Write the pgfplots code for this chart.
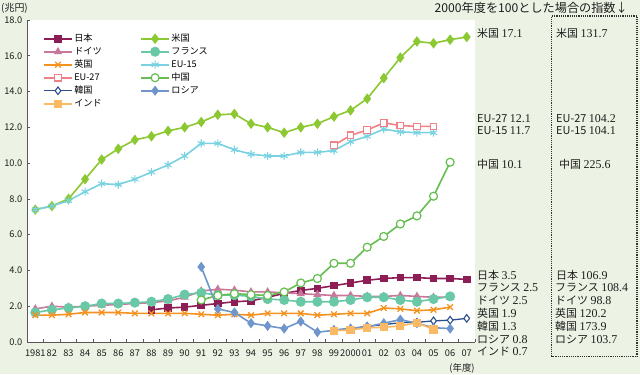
\documentclass[border=0pt]{standalone}
\usepackage{pgfplots}
\pgfplotsset{compat=1.18}
\usepackage{fontspec}
\setmainfont{Noto Sans CJK JP}
\newfontfamily\numf{Liberation Serif}
\definecolor{bg}{RGB}{236,243,228}
\definecolor{cJP}{RGB}{140,30,85}
\definecolor{cUS}{RGB}{140,200,50}
\definecolor{cDE}{RGB}{200,120,155}
\definecolor{cFR}{RGB}{105,200,165}
\definecolor{cUK}{RGB}{245,145,30}
\definecolor{cE15}{RGB}{120,210,225}
\definecolor{cE27}{RGB}{240,130,135}
\definecolor{cCN}{RGB}{100,190,80}
\definecolor{cKR}{RGB}{45,80,140}
\definecolor{cRU}{RGB}{110,150,205}
\definecolor{cIN}{RGB}{250,185,100}
\definecolor{txt}{RGB}{30,30,30}
\newcommand{\jf}{\fontsize{11}{12}\selectfont}
\newcommand{\nf}{\numf\fontsize{12}{13}\selectfont}
\begin{document}
\begin{tikzpicture}[x=1bp,y=1bp]
\fill[bg] (0,0) rectangle (640,374);
\begin{axis}[
  at={(27bp,32bp)}, anchor=south west, scale only axis,
  width=448bp, height=322bp,
  xmin=1980.5, xmax=2007.5, ymin=0, ymax=18,
  axis background/.style={fill=white},
  axis lines=left, axis line style={-, draw=black!65, line width=0.8bp},
  tick align=inside,
  xtick={1981,...,2007},
  xticklabels={1981,82,83,84,85,86,87,88,89,90,91,92,93,94,95,96,97,98,99,2000,01,02,03,04,05,06,07},
  major x tick style={draw=none},
  minor xtick={1981.5,1982.5,...,2007.5},
  minor tick length=3bp,
  minor x tick style={draw=black!65, line width=0.6bp},
  ytick={0,2,...,18},
  major tick length=3bp,
  y tick style={draw=black!65, line width=0.6bp},
  /pgf/number format/assume math mode=true,
  /pgf/number format/fixed,
  /pgf/number format/fixed zerofill,
  /pgf/number format/precision=1,
  tick label style={font=\fontsize{9.3}{10}\selectfont, text=txt},
  xticklabel style={yshift=-3.8bp, inner xsep=0pt},
  yticklabel style={xshift=-1.2bp},
  legend columns=2,
  legend cell align=left,
  legend style={at={(axis description cs:0.0357,0.958)}, anchor=north west,
    draw=none, fill=none, inner sep=0pt, row sep=3bp,
    font=\fontsize{9.2}{10}\selectfont,
    nodes={inner xsep=1.5bp, inner ysep=0bp, text height=7.5bp, text depth=2.5bp},
    /tikz/every even column/.append style={column sep=37bp}},
  legend image code/.code={\draw[mark repeat=2,mark phase=2] plot coordinates {(0bp,0bp) (14bp,0bp) (28bp,0bp)};},
  every axis plot/.append style={line width=1.6bp},
]
% 日本
\addplot[cJP, mark=square*, mark size=3bp, mark options={solid}] coordinates {
(1988,1.8)(1989,1.9)(1990,1.95)(1991,2.05)(1992,2.15)(1993,2.25)(1994,2.3)(1995,2.5)(1996,2.72)(1997,2.88)(1998,3.0)(1999,3.15)(2000,3.3)(2001,3.45)(2002,3.55)(2003,3.6)(2004,3.6)(2005,3.55)(2006,3.55)(2007,3.5)};
\addlegendentry{日本}
% 米国
\addplot[cUS, mark=diamond*, mark size=4bp, mark options={solid}] coordinates {
(1981,7.4)(1982,7.6)(1983,8.0)(1984,9.1)(1985,10.2)(1986,10.8)(1987,11.3)(1988,11.5)(1989,11.8)(1990,12.0)(1991,12.3)(1992,12.7)(1993,12.75)(1994,12.2)(1995,12.0)(1996,11.7)(1997,12.0)(1998,12.2)(1999,12.6)(2000,12.95)(2001,13.6)(2002,14.75)(2003,15.9)(2004,16.8)(2005,16.7)(2006,16.9)(2007,17.05)};
\addlegendentry{米国}
% ドイツ
\addplot[cDE, mark=triangle*, mark size=3.2bp, mark options={solid}] coordinates {
(1981,1.85)(1982,2.0)(1983,1.95)(1984,2.0)(1985,2.05)(1986,2.1)(1987,2.15)(1988,2.2)(1989,2.3)(1990,2.5)(1991,2.85)(1992,2.95)(1993,2.9)(1994,2.8)(1995,2.8)(1996,2.75)(1997,2.7)(1998,2.65)(1999,2.6)(2000,2.6)(2001,2.55)(2002,2.55)(2003,2.6)(2004,2.55)(2005,2.5)(2006,2.5)};
\addlegendentry{ドイツ}
% フランス
\addplot[cFR, mark=*, mark size=4.2bp, mark options={solid}] coordinates {
(1981,1.65)(1982,1.8)(1983,1.9)(1984,2.0)(1985,2.15)(1986,2.15)(1987,2.2)(1988,2.25)(1989,2.4)(1990,2.65)(1991,2.75)(1992,2.62)(1993,2.62)(1994,2.55)(1995,2.4)(1996,2.35)(1997,2.25)(1998,2.25)(1999,2.25)(2000,2.35)(2001,2.5)(2002,2.5)(2003,2.35)(2004,2.25)(2005,2.4)(2006,2.55)};
\addlegendentry{フランス}
% 英国
\addplot[cUK, mark=x, mark size=4bp, mark options={solid, line width=1.3bp}] coordinates {
(1981,1.5)(1982,1.5)(1983,1.55)(1984,1.65)(1985,1.65)(1986,1.65)(1987,1.6)(1988,1.6)(1989,1.6)(1990,1.6)(1991,1.55)(1992,1.5)(1993,1.55)(1994,1.5)(1995,1.6)(1996,1.6)(1997,1.6)(1998,1.5)(1999,1.55)(2000,1.6)(2001,1.6)(2002,1.9)(2003,1.85)(2004,1.75)(2005,1.8)(2006,1.95)};
\addlegendentry{英国}
% EU-15
\addplot[cE15, mark=asterisk, mark size=4bp, mark options={solid, line width=1.1bp}] coordinates {
(1981,7.4)(1982,7.6)(1983,7.9)(1984,8.4)(1985,8.85)(1986,8.8)(1987,9.1)(1988,9.5)(1989,9.9)(1990,10.4)(1991,11.1)(1992,11.1)(1993,10.75)(1994,10.5)(1995,10.4)(1996,10.4)(1997,10.6)(1998,10.6)(1999,10.7)(2000,11.2)(2001,11.5)(2002,11.9)(2003,11.75)(2004,11.7)(2005,11.7)};
\addlegendentry{EU-15}
% EU-27
\addplot[cE27, mark=square*, mark size=3.3bp, mark options={solid, fill=white, line width=1.2bp}] coordinates {
(1999,11.0)(2000,11.55)(2001,11.85)(2002,12.25)(2003,12.1)(2004,12.05)(2005,12.05)};
\addlegendentry{EU-27}
% 中国
\addplot[cCN, mark=*, mark size=4bp, mark options={solid, fill=white, line width=1.2bp}] coordinates {
(1991,2.35)(1992,2.6)(1993,2.7)(1994,2.65)(1995,2.6)(1996,2.8)(1997,3.3)(1998,3.55)(1999,4.4)(2000,4.4)(2001,5.3)(2002,5.9)(2003,6.6)(2004,7.05)(2005,8.15)(2006,10.05)};
\addlegendentry{中国}
% 韓国
\addplot[cKR, line width=1.3bp, mark=diamond*, mark size=3.8bp, mark options={solid, fill=white, line width=1.1bp}] coordinates {
(1999,0.68)(2000,0.75)(2001,0.88)(2002,0.97)(2003,1.08)(2004,1.1)(2005,1.18)(2006,1.22)(2007,1.32)};
\addlegendentry{韓国}
% ロシア
\addplot[cRU, mark=diamond*, mark size=3.8bp, mark options={solid}] coordinates {
(1991,4.2)(1992,1.85)(1993,1.65)(1994,1.05)(1995,0.9)(1996,0.75)(1997,1.15)(1998,0.55)(1999,0.65)(2000,0.75)(2001,0.85)(2002,1.05)(2003,1.25)(2004,1.05)(2005,0.8)(2006,0.75)};
\addlegendentry{ロシア}
% インド
\addplot[cIN, mark=square*, mark size=3.3bp, mark options={solid}] coordinates {
(1999,0.63)(2000,0.67)(2001,0.8)(2002,0.82)(2003,0.9)(2004,1.08)(2005,0.7)};
\addlegendentry{インド}
\end{axis}
% titles
\node[anchor=west, inner sep=0, font=\fontsize{10}{11}\selectfont, text=txt] at (1,366) {(兆円)};
\node[anchor=center, inner sep=0, font=\fontsize{9.5}{10}\selectfont, text=txt] at (462,6) {(年度)};
\node[anchor=east, inner sep=0, font=\fontsize{12.2}{13}\selectfont, text=txt] at (628,366) {2000年度を100とした場合の指数↓};
% right labels (values)
\begin{scope}[every node/.style={anchor=west, inner sep=0, text=txt}]
\node at (477,340.7) {\jf 米国 \nf 17.1};
\node at (477,255.7) {\jf EU-27 \nf 12.1};
\node at (477,243) {\jf EU-15 \nf 11.7};
\node at (477,210) {\jf 中国 \nf 10.1};
\node at (477,99) {\jf 日本 \nf 3.5};
\node at (477,86.2) {\jf フランス \nf 2.5};
\node at (477,73.4) {\jf ドイツ \nf 2.5};
\node at (477,60.6) {\jf 英国 \nf 1.9};
\node at (477,47.8) {\jf 韓国 \nf 1.3};
\node at (477,35) {\jf ロシア \nf 0.8};
\node at (477,22.2) {\jf インド \nf 0.7};
% index
\node at (556,340.7) {\jf 米国 \nf 131.7};
\node at (556,255.7) {\jf EU-27 \nf 104.2};
\node at (556,243) {\jf EU-15 \nf 104.1};
\node at (559,210) {\jf 中国 \nf 225.6};
\node at (556,99) {\jf 日本 \nf 106.9};
\node at (555,86.2) {\jf フランス \nf 108.4};
\node at (555,73.4) {\jf ドイツ \nf 98.8};
\node at (555,60.6) {\jf 英国 \nf 120.2};
\node at (555,47.8) {\jf 韓国 \nf 173.9};
\node at (555,35) {\jf ロシア \nf 103.7};
\end{scope}
\draw[black!80, line width=1.1bp, dash pattern=on 1.1bp off 1.1bp] (551.5,17.5) rectangle (637,358);
\pgfresetboundingbox
\useasboundingbox (0,0) rectangle (640,374);
\end{tikzpicture}
\end{document}
